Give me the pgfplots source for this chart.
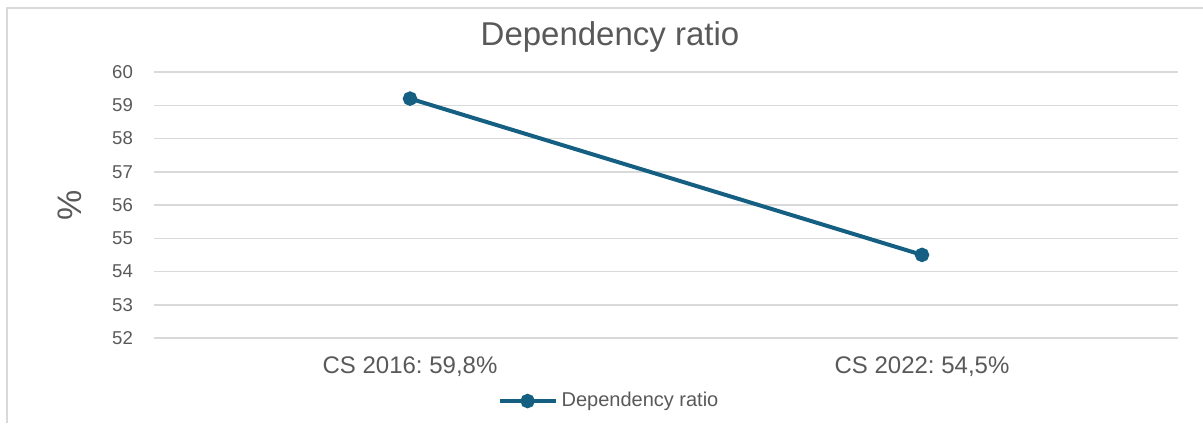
\documentclass[border=0pt]{standalone}
\usepackage{pgfplots}
\pgfplotsset{compat=1.18}
\usepackage{fontspec}
\setmainfont{Liberation Sans}
\frenchspacing
\definecolor{linecol}{RGB}{21,96,130}
\definecolor{txt}{RGB}{89,89,89}
\definecolor{gridc}{RGB}{217,217,217}
\begin{document}
\begin{tikzpicture}[x=1pt,y=1pt]
\useasboundingbox (0,0) rectangle (601.5,211.5);
% chart frame (cut off at right and bottom)
\draw[gridc, line width=0.8pt] (3.5,0) -- (3.5,207.5) -- (610,207.5);
\begin{axis}[
    at={(77pt,42.5pt)}, anchor=south west,
    scale only axis, width=512pt, height=133pt,
    xmin=-0.5, xmax=1.5, ymin=52, ymax=60,
    xtick={0,1}, xticklabels={{CS 2016: 59,8\%}, {CS 2022: 54,5\%}},
    ytick={52,53,...,60},
    axis line style={draw=none},
    major tick length=0pt,
    ymajorgrids, grid style={gridc, line width=0.75pt},
    /pgf/number format/assume math mode=true,
    yticklabel style={font=\fontsize{9.3}{10}\selectfont, text=txt, xshift=-7pt},
    xticklabel style={font=\fontsize{12}{13}\selectfont, text=txt, yshift=-6pt},
    legend style={at={(0.4453,-0.237)}, anchor=center, draw=none, fill=none,
        font=\fontsize{10}{11}\selectfont, text=txt, inner sep=0pt},
    legend image code/.code={
        \draw[#1, mark=none] (0pt,0pt) -- (28pt,0pt);
        \draw[#1, only marks] plot coordinates {(14pt,0pt)};},
]
\addplot[linecol, line width=2pt, mark=*, mark size=2.6pt, mark options={fill=linecol}]
    coordinates {(0,59.2) (1,54.5)};
\addlegendentry{Dependency ratio}
\end{axis}
\node[text=txt, font=\fontsize{16.5}{18}\selectfont] at (305,193) {Dependency ratio};
\node[text=txt, font=\fontsize{17}{19}\selectfont, rotate=90] at (35,109) {\%};
\end{tikzpicture}
\end{document}
